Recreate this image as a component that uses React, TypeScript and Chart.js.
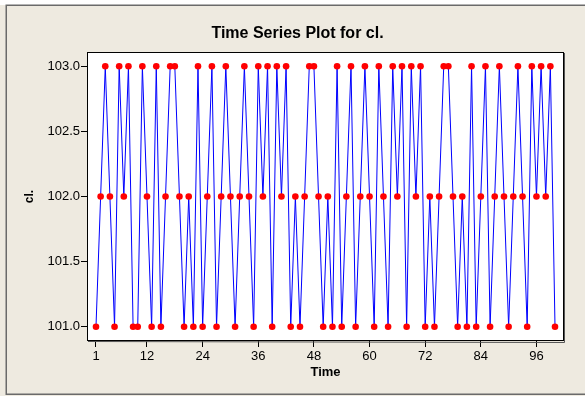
import { useEffect, useRef } from "react";
import { Chart, registerables } from "chart.js";

Chart.register(...registerables);

const chartTitle = "Time Series Plot for cl.";
const xAxisTitle = "Time";
const yAxisTitle = "cl.";

// cl. values for time index 1..100
const clValues = [
  101, 102, 103, 102, 101, 103, 102, 103, 101, 101,
  103, 102, 101, 103, 101, 102, 103, 103, 102, 101,
  102, 101, 103, 101, 102, 103, 101, 102, 103, 102,
  101, 102, 103, 102, 101, 103, 102, 103, 101, 103,
  102, 103, 101, 102, 101, 102, 103, 103, 102, 101,
  102, 101, 103, 101, 102, 103, 101, 102, 103, 102,
  101, 103, 102, 101, 103, 102, 103, 101, 103, 102,
  103, 101, 102, 101, 102, 103, 103, 102, 101, 102,
  101, 103, 101, 102, 103, 101, 102, 103, 102, 101,
  102, 103, 102, 101, 103, 102, 103, 102, 103, 101,
];

const xTickValues = [1, 12, 24, 36, 48, 60, 72, 84, 96];
const yTickValues = [101.0, 101.5, 102.0, 102.5, 103.0];

const FONT = "'Liberation Sans', Arial, sans-serif";

const framePlugin = {
  id: "minitabFrame",
  beforeDraw(chart: any) {
    const { ctx, width, height, chartArea: a } = chart;
    ctx.save();
    ctx.fillStyle = "#ffffff";
    ctx.fillRect(0, 0, width, height);
    ctx.fillStyle = "#EEEAE0";
    ctx.fillRect(0, 5, width, height - 5);
    ctx.strokeStyle = "#6a6a6a";
    ctx.lineWidth = 1.5;
    ctx.strokeRect(6.25, 5.25, width + 20, 389);
    ctx.fillStyle = "#ffffff";
    ctx.fillRect(a.left, a.top, a.right - a.left, a.bottom - a.top);
    ctx.restore();
  },
  afterDraw(chart: any) {
    const { ctx, chartArea: a } = chart;
    ctx.save();
    ctx.strokeStyle = "#000000";
    ctx.lineWidth = 1;
    ctx.strokeRect(a.left + 0.5, a.top + 0.5, a.right - a.left - 1, a.bottom - a.top - 1);
    ctx.strokeStyle = "#555555";
    ctx.beginPath();
    ctx.moveTo(a.right + 0.5, a.top + 1);
    ctx.lineTo(a.right + 0.5, a.bottom + 1.5);
    ctx.lineTo(a.left + 1, a.bottom + 0.5);
    ctx.stroke();
    ctx.restore();
  },
};

export default function App() {
  const ref = useRef<HTMLCanvasElement>(null);

  useEffect(() => {
    document.body.style.margin = "0";
    const canvas = ref.current;
    if (!canvas) return;
    const chart = new Chart(canvas, {
      type: "line",
      data: {
        datasets: [
          {
            data: clValues.map((v, i) => ({ x: i + 1, y: v })),
            borderColor: "#0000FF",
            borderWidth: 1,
            pointRadius: 3.3,
            pointBackgroundColor: "#FF0000",
            pointBorderWidth: 0,
            pointBorderColor: "#FF0000",
            tension: 0,
            fill: false,
          },
        ],
      },
      options: {
        animation: false,
        responsive: false,
        devicePixelRatio: 1,
        layout: { padding: { left: 31, right: 21, top: 0, bottom: 0 } },
        plugins: {
          legend: { display: false },
          tooltip: { enabled: false },
          title: {
            display: true,
            text: chartTitle,
            color: "#000",
            font: { family: FONT, size: 16, weight: "bold" },
            padding: { top: 24, bottom: 8.8 },
          },
        },
        scales: {
          x: {
            type: "linear",
            min: -0.94,
            max: 101.94,
            afterBuildTicks: (s: any) => {
              s.ticks = xTickValues.map((v) => ({ value: v }));
            },
            afterFit: (s: any) => {
              s.height = 55;
            },
            border: { display: false },
            grid: {
              display: true,
              drawOnChartArea: false,
              drawTicks: true,
              tickLength: 6,
              color: "#000",
              tickColor: "#000",
            },
            ticks: {
              autoSkip: false,
              maxRotation: 0,
              padding: 2,
              color: "#000",
              font: { family: FONT, size: 13 },
              callback: (v: any) => String(v),
            },
            title: {
              display: true,
              text: xAxisTitle,
              color: "#000",
              font: { family: FONT, size: 13, weight: "bold" },
              padding: { top: 0, bottom: 15.4 },
            },
          },
          y: {
            type: "linear",
            min: 100.89,
            max: 103.11,
            afterBuildTicks: (s: any) => {
              s.ticks = yTickValues.map((v) => ({ value: v }));
            },
            afterFit: (s: any) => {
              s.width = 56;
            },
            border: { display: false },
            grid: {
              display: true,
              drawOnChartArea: false,
              drawTicks: true,
              tickLength: 6,
              color: "#000",
              tickColor: "#000",
            },
            ticks: {
              autoSkip: false,
              padding: 1,
              color: "#000",
              font: { family: FONT, size: 13 },
              callback: (v: any) => Number(v).toFixed(1),
            },
            title: {
              display: true,
              text: yAxisTitle,
              color: "#000",
              font: { family: FONT, size: 12, weight: "bold" },
              padding: { top: -9, bottom: 0 },
            },
          },
        },
      },
      plugins: [framePlugin],
    } as any);
    return () => chart.destroy();
  }, []);

  return (
    <div style={{ width: 585, height: 396 }}>
      <canvas ref={ref} width={585} height={396} style={{ display: "block" }} />
    </div>
  );
}
